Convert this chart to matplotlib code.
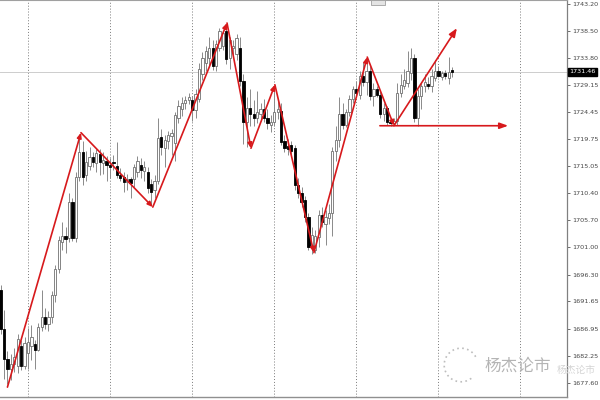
import matplotlib
matplotlib.use('Agg')
import matplotlib.pyplot as plt
import matplotlib.transforms as mtransforms
from matplotlib.patches import Rectangle, Arc

# ---- candle data (bar index = position) ----
opens = [1693.7, 1686.8, 1681.6, 1679.9, 1680.8, 1680.4, 1683.9, 1680.5, 1682.8, 1684.0,
         1684.2, 1683.3, 1687.3, 1689.0, 1687.7, 1689.0, 1692.8, 1697.3, 1702.0, 1703.0,
         1702.6, 1708.9, 1702.7, 1713.2, 1717.5, 1713.6, 1715.2, 1716.6, 1715.6, 1717.2,
         1715.6, 1716.0, 1715.3, 1715.8, 1715.2, 1713.5, 1713.2, 1712.3, 1712.8, 1712.8,
         1714.0, 1715.3, 1714.3, 1714.1, 1712.0, 1710.9, 1712.6, 1720.1, 1718.3, 1719.5,
         1720.3, 1719.1, 1723.5, 1725.0, 1726.0, 1726.6, 1726.5, 1724.8, 1726.8, 1731.1,
         1733.0, 1733.9, 1735.6, 1732.5, 1735.6, 1736.0, 1738.5, 1733.9, 1735.5, 1734.5,
         1735.6, 1729.9, 1722.7, 1725.2, 1724.2, 1723.5, 1724.2, 1725.0, 1723.5, 1722.3,
         1722.7, 1724.4, 1724.7, 1719.5, 1718.6, 1718.7, 1718.2, 1711.8, 1710.4, 1709.2,
         1706.3, 1701.1, 1700.6, 1702.8, 1706.6, 1705.0, 1706.1, 1707.0, 1717.8, 1719.6,
         1724.2, 1722.3, 1724.5, 1726.8, 1728.4, 1727.5, 1730.8, 1729.6, 1731.5, 1727.3,
         1728.4, 1727.4, 1724.2, 1725.2, 1722.8, 1722.6, 1723.0, 1727.8, 1729.0, 1729.5,
         1731.2, 1733.9, 1723.5, 1727.3, 1728.9, 1729.3, 1728.9, 1730.4, 1731.6, 1730.6,
         1731.2, 1730.4, 1731.8]
highs = [1694.5, 1690.2, 1683.0, 1682.5, 1683.5, 1686.0, 1685.0, 1685.5, 1687.0, 1687.5,
         1685.0, 1688.0, 1693.7, 1690.5, 1690.0, 1693.5, 1698.0, 1703.0, 1705.5, 1704.5,
         1710.5, 1709.5, 1714.0, 1720.5, 1719.5, 1717.8, 1718.5, 1717.5, 1718.0, 1718.0,
         1717.5, 1716.8, 1716.5, 1717.0, 1719.2, 1714.8, 1714.0, 1713.8, 1713.2, 1715.5,
         1716.8, 1716.5, 1716.0, 1715.0, 1712.8, 1713.5, 1723.5, 1721.5, 1720.5, 1721.2,
         1721.5, 1724.5, 1726.5, 1727.0, 1727.3, 1727.8, 1727.2, 1728.5, 1733.0, 1734.8,
         1736.0, 1737.5, 1737.0, 1737.0, 1739.0, 1738.6, 1739.8, 1737.5, 1737.0, 1738.0,
         1737.5, 1731.0, 1727.0, 1728.5, 1726.5, 1728.2, 1726.0, 1726.8, 1725.0, 1724.0,
         1729.0, 1726.5, 1726.0, 1720.5, 1719.8, 1719.5, 1718.8, 1713.0, 1711.5, 1710.0,
         1707.0, 1704.5, 1704.0, 1707.5, 1708.0, 1707.5, 1708.5, 1718.5, 1722.0, 1727.0,
         1726.0, 1725.0, 1727.5, 1729.0, 1729.8, 1731.5, 1733.2, 1734.0, 1732.5, 1729.5,
         1729.0, 1728.2, 1726.0, 1725.5, 1723.5, 1723.4, 1729.5, 1731.0, 1732.0, 1735.0,
         1735.5, 1734.5, 1728.5, 1729.5, 1731.0, 1730.5, 1732.0, 1733.5, 1732.5, 1731.5,
         1731.8, 1734.0, 1732.3]
lows = [1686.0, 1678.2, 1677.3, 1678.0, 1679.5, 1679.2, 1679.8, 1680.0, 1680.0, 1681.5,
        1680.0, 1683.0, 1686.5, 1686.8, 1686.5, 1688.0, 1691.5, 1696.5, 1700.5, 1700.0,
        1702.0, 1702.2, 1702.0, 1712.5, 1711.8, 1712.5, 1714.5, 1715.0, 1714.0, 1713.5,
        1713.8, 1712.5, 1713.0, 1714.5, 1713.0, 1712.5, 1710.6, 1711.0, 1709.5, 1711.5,
        1713.2, 1713.0, 1712.5, 1710.5, 1708.3, 1709.5, 1712.0, 1717.0, 1715.0, 1718.0,
        1717.0, 1716.0, 1722.5, 1723.8, 1725.0, 1725.8, 1723.0, 1723.5, 1726.2, 1730.0,
        1731.5, 1732.5, 1731.8, 1731.5, 1735.0, 1735.2, 1732.8, 1732.0, 1734.0, 1733.5,
        1729.0, 1719.0, 1718.5, 1722.0, 1722.0, 1722.5, 1723.0, 1722.8, 1721.5, 1721.0,
        1722.0, 1723.2, 1718.8, 1717.5, 1717.0, 1716.8, 1711.0, 1709.5, 1708.0, 1705.5,
        1700.5, 1699.8, 1700.0, 1701.0, 1704.5, 1701.5, 1705.0, 1703.0, 1716.0, 1718.5,
        1721.6, 1721.8, 1723.8, 1726.0, 1727.2, 1726.8, 1729.0, 1727.5, 1726.5, 1725.5,
        1727.0, 1723.5, 1723.0, 1722.3, 1722.0, 1722.2, 1722.2, 1727.0, 1728.5, 1728.8,
        1730.0, 1722.8, 1722.0, 1725.0, 1728.0, 1728.5, 1728.0, 1729.8, 1730.5, 1730.0,
        1730.2, 1729.4, 1730.6]
closes = [1686.8, 1681.6, 1679.9, 1680.8, 1682.0, 1685.1, 1680.4, 1684.5, 1684.6, 1685.5,
          1683.3, 1687.3, 1689.0, 1687.7, 1689.0, 1692.8, 1697.3, 1702.3, 1703.0, 1702.4,
          1708.9, 1702.7, 1713.2, 1717.5, 1713.2, 1715.8, 1716.6, 1715.8, 1717.4, 1715.8,
          1716.2, 1715.3, 1715.0, 1715.6, 1713.5, 1713.0, 1712.3, 1712.8, 1712.2, 1714.9,
          1716.0, 1714.5, 1715.0, 1711.3, 1710.6, 1712.6, 1720.0, 1718.4, 1719.6, 1720.5,
          1720.8, 1723.9, 1725.6, 1726.0, 1726.5, 1727.1, 1724.8, 1727.6, 1732.0, 1733.9,
          1735.0, 1735.6, 1732.5, 1736.2, 1738.5, 1738.2, 1733.7, 1737.0, 1736.0, 1737.3,
          1729.9, 1722.7, 1725.2, 1724.2, 1723.5, 1724.4, 1725.0, 1723.5, 1722.5, 1722.8,
          1724.4, 1725.0, 1719.2, 1718.2, 1718.0, 1717.8, 1711.8, 1710.4, 1708.9, 1706.3,
          1701.1, 1703.2, 1703.0, 1706.6, 1705.5, 1706.3, 1707.0, 1717.8, 1719.6, 1724.2,
          1722.3, 1724.5, 1726.8, 1728.4, 1727.8, 1730.8, 1729.6, 1731.5, 1727.3, 1728.4,
          1727.4, 1724.2, 1725.2, 1722.8, 1722.6, 1723.0, 1727.8, 1729.1, 1730.0, 1731.6,
          1733.9, 1723.5, 1727.3, 1728.9, 1729.6, 1728.9, 1730.8, 1731.6, 1730.8, 1731.2,
          1730.7, 1731.4, 1731.46]

# ---- axis / annotation data ----
ytick_values = [1743.20, 1738.50, 1733.80, 1729.15, 1724.45, 1719.75, 1715.05, 1710.40,
                1705.70, 1701.00, 1696.30, 1691.65, 1686.95, 1682.25, 1677.60]
ytick_labels = ['1743.20', '1738.50', '1733.80', '1729.15', '1724.45', '1719.75', '1715.05',
                '1710.40', '1705.70', '1701.00', '1696.30', '1691.65', '1686.95', '1682.25',
                '1677.60']
current_price = 1731.46
zigzag_x = [2.0, 23.5, 44.5, 66.2, 73.2, 80.2, 91.6, 107.2, 115.0, 133.4]
zigzag_y = [1676.8, 1720.9, 1708.0, 1739.9, 1718.2, 1729.2, 1700.1, 1734.0, 1722.1, 1739.0]
support_x = [110.9, 148.4]
support_y = 1722.1
grid_bars = [8, 32, 56, 80, 104, 128, 152]
watermark = '杨杰论市'

RED = '#d7191c'

fig = plt.figure(figsize=(6, 4), dpi=100)
ax = fig.add_axes([0, 3 / 400, 567 / 600, 397 / 400])
ax.set_xlim(-0.175, 165.6)
ax.set_ylim(1675.09, 1743.89)

# grid (vertical dotted separators)
for g in grid_bars:
    ax.axvline(g, color='#7a7a7a', lw=0.7, ls=(0, (1, 2)), zorder=0)

# current price line
ax.axhline(current_price, color='#cdcdcd', lw=0.7, zorder=1)

# candles
bw = 0.66
for i, (o, h, l, c) in enumerate(zip(opens, highs, lows, closes)):
    bull = c >= o
    ax.vlines(i, l, h, color='#8a8a8a', lw=0.7, zorder=2)
    bottom = min(o, c)
    height = max(abs(c - o), 0.15)
    ax.add_patch(Rectangle((i - bw / 2, bottom), bw, height,
                           facecolor='white' if bull else 'black',
                           edgecolor='#707070' if bull else 'black',
                           lw=0.6, zorder=3))

# zigzag arrows
for k in range(len(zigzag_x) - 1):
    last = (k == len(zigzag_x) - 2)
    hs = 'head_length=0.3,head_width=0.13' if not last else 'head_length=0.5,head_width=0.2'
    ax.annotate('', xy=(zigzag_x[k + 1], zigzag_y[k + 1]),
                xytext=(zigzag_x[k], zigzag_y[k]),
                arrowprops=dict(arrowstyle='-|>,' + hs, color=RED, lw=1.2,
                                shrinkA=0, shrinkB=0), zorder=5)
ax.annotate('', xy=(support_x[1], support_y), xytext=(support_x[0], support_y),
            arrowprops=dict(arrowstyle='-|>,head_length=0.5,head_width=0.18', color=RED,
                            lw=1.2, shrinkA=0, shrinkB=0), zorder=5)

# axes styling
ax.yaxis.tick_right()
ax.set_yticks(ytick_values)
ax.set_yticklabels(ytick_labels)
ax.set_xticks([])
ax.tick_params(axis='y', length=2, width=0.6, colors='#555555', labelsize=4.6,
               pad=1.5, labelcolor='#444444')
ax.spines['left'].set_visible(False)
ax.spines['right'].set_color('#808080')
ax.spines['right'].set_linewidth(0.9)
ax.spines['bottom'].set_color('#909090')
ax.spines['bottom'].set_linewidth(1.0)
ax.spines['top'].set_color('#a0a0a0')
ax.spines['top'].set_linewidth(0.8)

# current price label
trans = mtransforms.blended_transform_factory(ax.transAxes, ax.transData)
ax.text(1.004, current_price, '1731.46', transform=trans, color='white', fontsize=4.6,
        va='center', ha='left', clip_on=False,
        bbox=dict(boxstyle='square,pad=0.25', fc='black', ec='black'))

# small tab at top
ax.add_patch(Rectangle((371 / 567, 1 - 5 / 397), 14 / 567, 5 / 397, transform=ax.transAxes,
                       facecolor='#e4e4e4', edgecolor='#a0a0a0', lw=0.6, zorder=6,
                       clip_on=False))

# watermark
fig.text(518 / 600, 1 - 366 / 400, watermark, family=['Noto Sans CJK SC', 'DejaVu Sans'],
         fontsize=12, color='#b4b4b4', ha='center', va='center', zorder=10)
fig.text(557 / 600, 1 - 370 / 400, watermark, family=['Noto Sans CJK SC', 'DejaVu Sans'],
         fontsize=7, color='#d4d4d4', ha='left', va='center', zorder=0)
fig.add_artist(Arc((461 / 600, 1 - 365 / 400), 0.056, 0.084,
                   theta1=40, theta2=300, transform=fig.transFigure,
                   color='#bdbdbd', lw=1.2, ls=(0, (1, 2))))

fig.savefig('out.png', dpi=100)
